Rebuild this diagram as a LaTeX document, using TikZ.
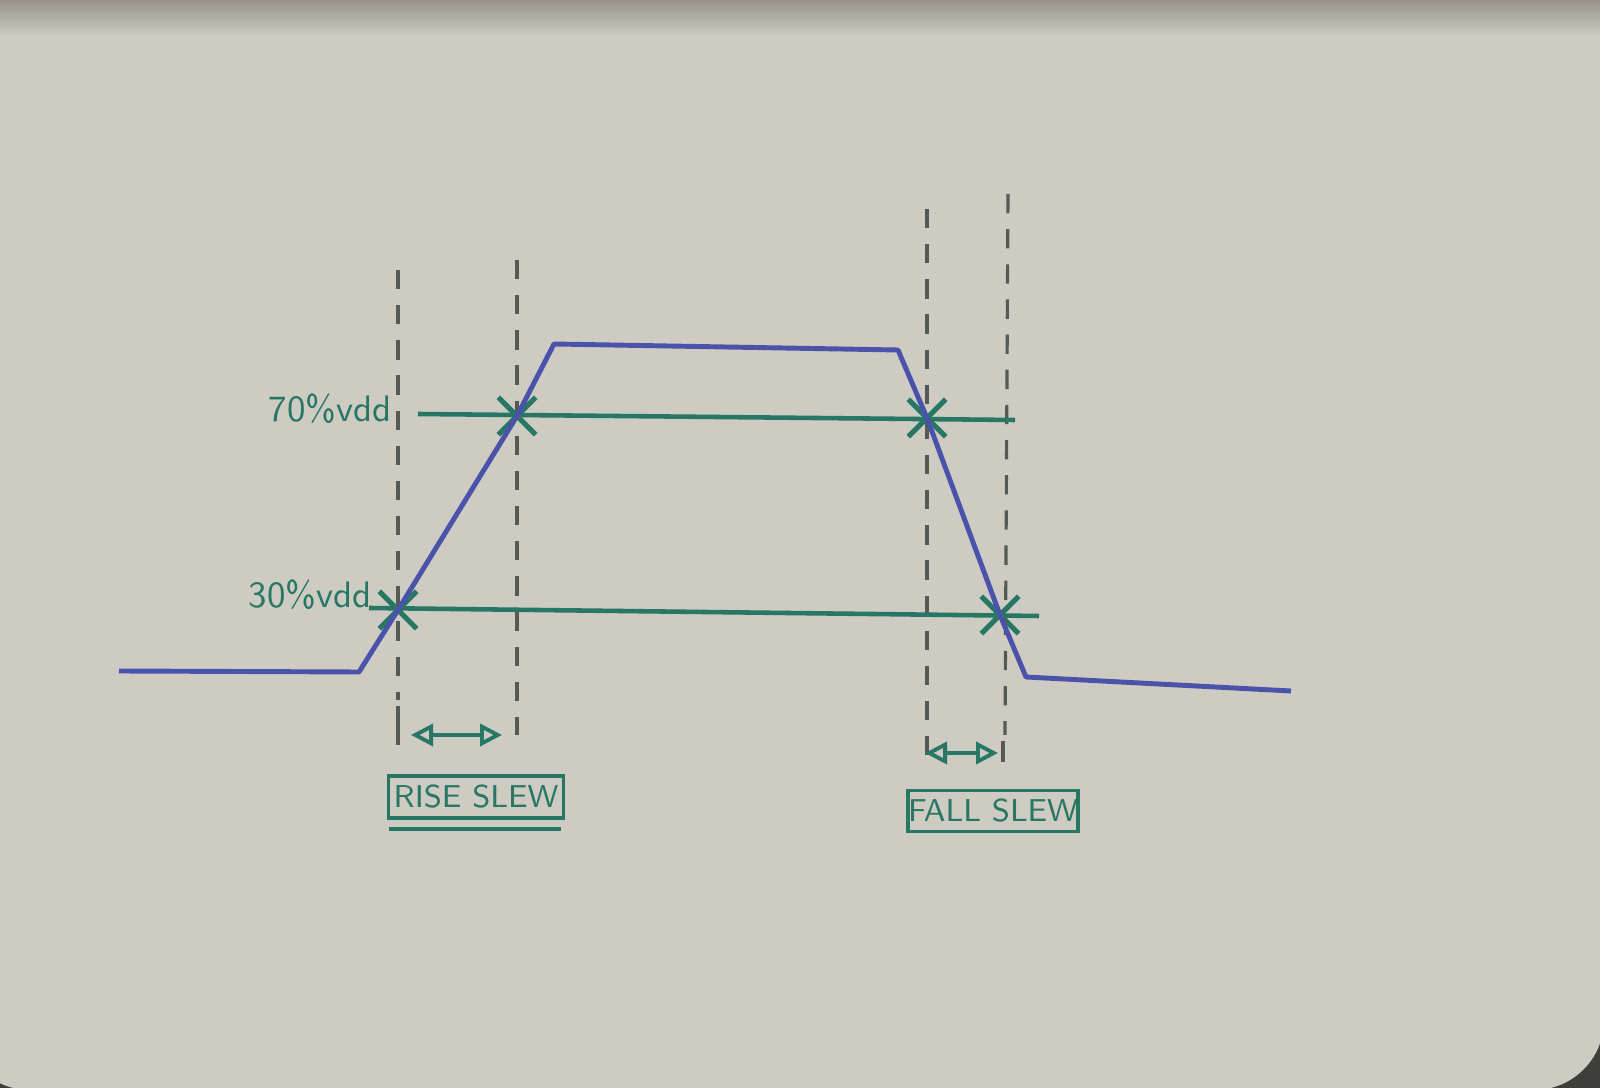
\documentclass[tikz,border=0pt]{standalone}
\usepackage{tikz}
\usetikzlibrary{arrows.meta,shapes.misc,positioning}
\definecolor{paper}{RGB}{205,203,194}
\definecolor{shadow}{RGB}{150,146,137}
\definecolor{table}{RGB}{62,62,58}
\definecolor{pen}{RGB}{74,82,170}
\definecolor{ink}{RGB}{40,118,100}
\definecolor{pencil}{RGB}{86,90,84}

\begin{document}
\begin{tikzpicture}[x=0.1mm,y=-0.1mm,
  signal/.style={pen,line width=1.4pt,line join=round},
  level/.style={ink,line width=1.3pt},
  guide/.style={pencil,line width=0.9pt,dash pattern=on 5.5pt off 4.5pt},
  tick/.style={pencil,line width=0.9pt},
  xmark/.style={cross out,draw=ink,line width=1.5pt,minimum size=3.2mm,inner sep=0pt},
  vlabel/.style={ink,font=\sffamily\fontsize{10.5}{12}\selectfont},
  slewbox/.style={draw=ink,line width=1.1pt,text=ink,inner sep=0pt,font=\sffamily\fontsize{9}{11}\selectfont},
  slew/.style={ink,line width=1.1pt,{Triangle[open,length=2.2mm,width=2.2mm]}-{Triangle[open,length=2.2mm,width=2.2mm]}}]

% paper
\useasboundingbox (0,0) rectangle (1600,1088);
\fill[table] (0,0) rectangle (1600,1088);
\fill[paper,rounded corners=7mm] (-40,-40) rectangle (1604,1090);
\shade[top color=shadow,bottom color=paper] (0,0) rectangle (1600,36);

% Nodes
\coordinate (s0) at (119,671);
\coordinate (s1) at (359,672);
\coordinate (s2) at (554,344);
\coordinate (s3) at (898,350);
\coordinate (s4) at (1026,677);
\coordinate (s5) at (1291,691);

\node[xmark] (r30) at (398,610) {};
\node[xmark] (r70) at (517,416) {};
\node[xmark] (f70) at (927,418) {};
\node[xmark] (f30) at (1000,615) {};

\coordinate (l70a) at (418,414);
\coordinate (l70b) at (1015,420);
\coordinate (l30a) at (369,608);
\coordinate (l30b) at (1039,616);

\node[vlabel] (lab70) at (330,409) {70\%vdd};
\node[vlabel] (lab30) at (310,595) {30\%vdd};

% guides
\coordinate (g1top) at (398,270);
\coordinate (g1end) at (398,700);
\coordinate (g1tick) at (398,706);
\coordinate (g1bot) at (398,745);
\coordinate (g2top) at (517,260);
\coordinate (g2bot) at (517,735);
\coordinate (g3top) at (927,209);
\coordinate (g3bot) at (927,755);
\coordinate (g4top) at (1008,194);
\coordinate (g4end) at (1005,735);
\coordinate (g4tick) at (1003,741);
\coordinate (g4bot) at (1003,762);

\path (g1top) edge[guide] (g1end);
\path (g1tick) edge[tick] (g1bot);
\path (g2top) edge[guide] (g2bot);
\path (g3top) edge[guide] (g3bot);
\path (g4top) edge[guide] (g4end);
\path (g4tick) edge[tick] (g4bot);

% levels
\path (l70a) edge[level] (l70b);
\path (l30a) edge[level] (l30b);

% signal
\draw[signal] (s0) -- (s1) -- (r30.center) -- (r70.center) -- (s2) -- (s3)
  -- (f70.center) -- (f30.center) -- (s4) -- (s5);

% slews
\coordinate (riseA) at (411,735);
\coordinate (riseB) at (502,735);
\coordinate (fallA) at (925,753);
\coordinate (fallB) at (998,753);
\path (riseA) edge[slew] (riseB);
\path (fallA) edge[slew] (fallB);

\node[slewbox,minimum width=17.5mm,minimum height=4.2mm] (riseslew) at (476,797) {RISE SLEW};
\node[slewbox,minimum width=14.1mm,minimum height=4.1mm] (fallslew) at (993,811) {FALL SLEW};
\draw[ink,line width=1.1pt] ([xshift=0.2mm,yshift=-0.9mm]riseslew.south west) -- ([xshift=-0.4mm,yshift=-0.9mm]riseslew.south east);

\end{tikzpicture}
\end{document}
